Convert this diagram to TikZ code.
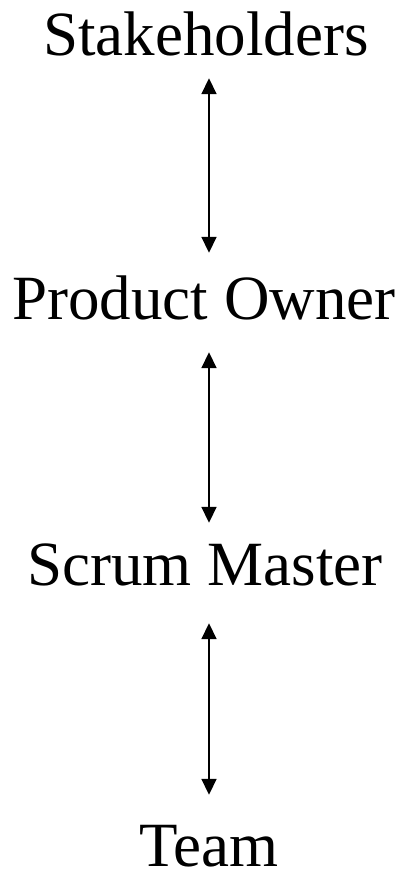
\documentclass[tikz,border=0pt]{standalone}
\usepackage{fontspec}
\setmainfont{Liberation Serif}
\usetikzlibrary{arrows.meta,positioning}

\tikzset{
  role/.style={font=\fontsize{63}{75}\selectfont, anchor=base, inner sep=0pt,
    text height=42pt, text depth=13pt},
  link/.style={{Triangle[width=15pt,length=16pt]}-{Triangle[width=15pt,length=16pt]}, line width=1.8pt}
}

\begin{document}
\begin{tikzpicture}[x=1pt,y=-1pt]
\useasboundingbox (0,0) rectangle (410,875);
\node[role] (sh) at (206,56) {Stakeholders};
\node[role] (po) at (204,319) {Product Owner};
\node[role] (sm) at (205,585) {Scrum Master};
\node[role,text depth=0pt] (tm) at (209,866) {Team};
% arrows between the roles
\draw[link,shorten <=9pt,shorten >=24pt] ([xshift=3pt]sh.south) -- ([xshift=5pt]po.north);
\draw[link,shorten <=20pt,shorten >=20pt] ([xshift=5pt]po.south) -- ([xshift=4pt]sm.north);
\draw[link,shorten <=25pt,shorten >=29pt] ([xshift=4pt]sm.south) -- ([xshift=0pt]tm.north);
\end{tikzpicture}
\end{document}
